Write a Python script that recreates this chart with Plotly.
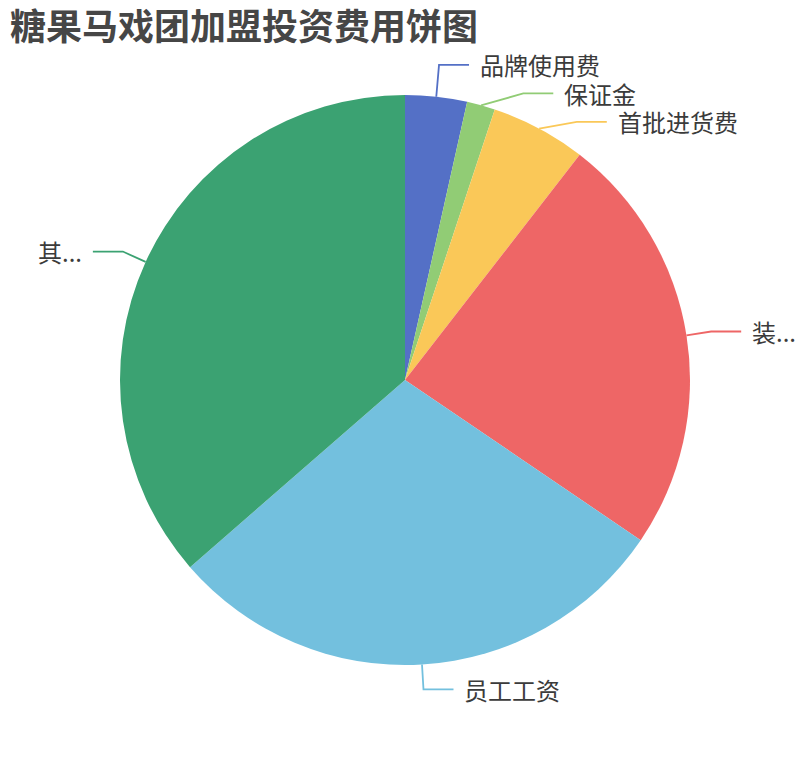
import math
import plotly.graph_objects as go

# pie data (shares in percent)
labels = ["品牌使用费", "保证金", "首批进货费", "装修费用", "员工工资", "其他费用"]
shown = ["品牌使用费", "保证金", "首批进货费", "装...", "员工工资", "其..."]
values = [3.5, 1.6, 5.4, 24.0, 29.1, 36.4]
colors = ["#5470c6", "#91cc75", "#fac858", "#ee6666", "#73c0de", "#3ba272"]

W, H = 810, 760
cx, cy, R = 405, 380, 285   # pie centre / radius in px
L1, L2 = 25, 30             # label line lengths
GAP = 28.5                  # min vertical spacing of labels

fig = go.Figure()
fig.add_trace(go.Pie(
    labels=labels, values=values, sort=False, direction="clockwise", rotation=0,
    marker=dict(colors=colors, line=dict(width=0)),
    textinfo="none", hoverinfo="label+value+percent", showlegend=False,
    domain=dict(x=[(cx - R) / W, (cx + R) / W], y=[1 - (cy + R) / H, 1 - (cy - R) / H]),
))

def px(x, y):
    return x / W, 1 - y / H

# label placement, roughly like echarts does it
total = sum(values)
acc = 0
items = []
for i, v in enumerate(values):
    mid = math.radians((acc + v / 2) / total * 360)
    acc += v
    s, c = math.sin(mid), math.cos(mid)
    side = 1 if s >= 0 else -1
    y0 = cy - (R + L1) * c
    items.append(dict(i=i, s=s, c=c, side=side,
                      p0=(cx + R * s, cy - R * c), y0=y0, y=y0))

Re = R + L1
for side in (1, -1):
    grp = sorted([it for it in items if it["side"] == side], key=lambda t: t["y"])
    clusters = [[grp[0]]] if grp else []
    for a, b in zip(grp, grp[1:]):
        if b["y"] - a["y"] < GAP:
            b["y"] = a["y"] + GAP
            clusters[-1].append(b)
        else:
            clusters.append([b])
    # pull each pushed cluster back up a bit
    for cl in clusters:
        d = sum(t["y"] - t["y0"] for t in cl) / len(cl) / 2
        for t in cl:
            t["y"] -= d

for it in items:
    dy = it["y"] - cy
    if abs(dy) < Re and Re ** 2 - dy ** 2 > (Re * it["s"]) ** 2:
        ex = cx + it["side"] * math.sqrt(Re ** 2 - dy ** 2)
    else:
        ex = cx + Re * it["s"]
    ey = it["y"]
    hx = ex + it["side"] * L2
    col = colors[it["i"]]
    pts = [it["p0"], (ex, ey), (hx, ey)]
    path = "M " + " L ".join("%f,%f" % px(*p) for p in pts)
    fig.add_shape(type="path", path=path, xref="paper", yref="paper",
                  line=dict(color=col, width=1.8))
    tx, ty = px(hx + it["side"] * 9, ey)
    fig.add_annotation(x=tx, y=ty, xref="paper", yref="paper", text=shown[it["i"]],
                       showarrow=False, xanchor="left" if it["side"] > 0 else "right",
                       yanchor="middle", font=dict(size=24, color="#3b3b3b"))

fig.update_layout(
    width=W, height=H,
    margin=dict(l=0, r=0, t=0, b=0),
    paper_bgcolor="white", plot_bgcolor="white",
    font=dict(family="Noto Sans CJK SC"),
    title=dict(text="<b>糖果马戏团加盟投资费用饼图</b>", x=10 / W, xanchor="left",
               y=1 - 27 / H, yanchor="middle", xref="paper", yref="container",
               font=dict(size=36, color="#464646", family="Noto Sans CJK SC")),
)

fig.write_html("out.html", config={"displayModeBar": False},
               post_script="document.body.style.margin='0';")
